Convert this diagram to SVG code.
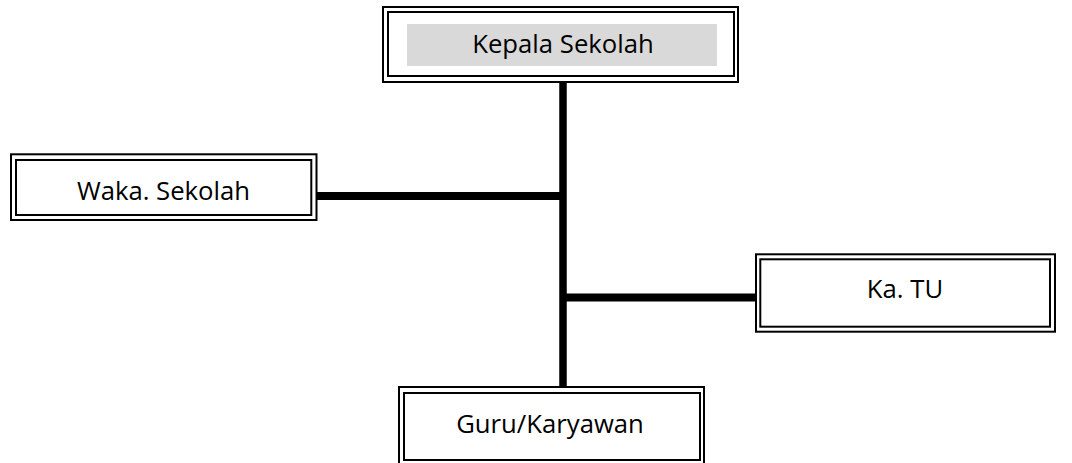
<svg xmlns="http://www.w3.org/2000/svg" width="1072" height="463" viewBox="0 0 1072 463">
<style>
.frame{fill:#fff;stroke:#000;stroke-width:2}
.inner{fill:none;stroke:#000;stroke-width:2}
.lbl{font-family:"Open Sans","Noto Sans",sans-serif;font-size:25.7px;fill:#000;text-anchor:middle}
.conn{stroke:#000;fill:none}
</style>
<rect width="1072" height="463" fill="#fff"/>
<g id="connectors">
<line class="conn" x1="563" y1="82" x2="563" y2="388" stroke-width="7.5"/>
<line class="conn" x1="316" y1="196" x2="563" y2="196" stroke-width="8"/>
<line class="conn" x1="563" y1="297.5" x2="757" y2="297.5" stroke-width="8"/>
</g>
<g id="kepala-sekolah">
<rect class="frame" x="383" y="7" width="355" height="75"/>
<rect class="inner" x="388" y="12" width="346" height="64"/>
<rect x="407" y="24" width="310" height="42" fill="#d9d9d9"/>
<text class="lbl" x="563" y="53">Kepala Sekolah</text>
</g>
<g id="waka-sekolah">
<rect class="frame" x="11" y="154.3" width="305.5" height="65.7"/>
<rect class="inner" x="16" y="160" width="295.3" height="55"/>
<text class="lbl" x="163.5" y="200">Waka. Sekolah</text>
</g>
<g id="ka-tu">
<rect class="frame" x="756" y="254.3" width="299" height="77.4"/>
<rect class="inner" x="760.3" y="259.3" width="289.7" height="67.4"/>
<text class="lbl" x="905" y="298">Ka. TU</text>
</g>
<g id="guru-karyawan">
<rect class="frame" x="399" y="387" width="305" height="80"/>
<rect class="inner" x="404" y="393" width="296" height="67"/>
<text class="lbl" x="550" y="433">Guru/Karyawan</text>
</g>
</svg>
